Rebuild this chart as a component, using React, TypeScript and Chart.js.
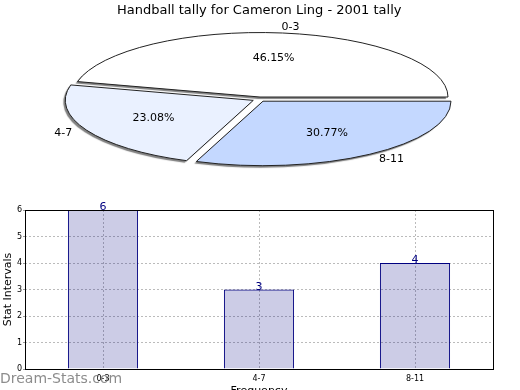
import React, { useEffect, useRef } from 'react';
import { Chart, registerables } from 'chart.js';
Chart.register(...registerables);

const chartTitle = 'Handball tally for Cameron Ling - 2001 tally';
const categories = ['0-3', '4-7', '8-11'];
const values = [6, 3, 4];
const pieColors = ['#ffffff', '#eaf1ff', '#c4d8ff'];
const yMin = 0;
const yMax = 6;
const xTitle = 'Frequency';
const yTitle = 'Stat Intervals';
const watermark = 'Dream-Stats.com';

const FONT = "'DejaVu Sans', sans-serif";
const SQUASH = 0.343;
const PIE_CY = 99.3;
const EXPLODE = 6.7;

const squashPlugin = {
  id: 'squash',
  beforeDatasetsDraw(chart: any) {
    const meta = chart.getDatasetMeta(0);
    const arc0 = meta.data[0];
    meta.data.forEach((arc: any) => {
      if (!arc.__wrapped) {
        const orig = arc.draw;
        arc.draw = function (ctx: any, area: any) {
          const mid = (this.startAngle + this.endAngle) / 2;
          ctx.save();
          ctx.translate(Math.cos(mid) * EXPLODE, Math.sin(mid) * EXPLODE);
          orig.call(this, ctx, area);
          ctx.restore();
        };
        arc.__wrapped = true;
      }
    });
    const ctx = chart.ctx;
    ctx.save();
    ctx.translate(0, PIE_CY);
    ctx.scale(1, SQUASH);
    ctx.translate(0, -arc0.y);
    ctx.shadowColor = 'rgba(0,0,0,0.5)';
    ctx.shadowOffsetX = -2;
    ctx.shadowOffsetY = 2;
    ctx.shadowBlur = 1;
    const orig = CanvasRenderingContext2D.prototype.stroke;
    ctx.stroke = function (...args: any[]) {
      this.save();
      this.setTransform(1, 0, 0, 1, 0, 0);
      this.shadowColor = 'rgba(0,0,0,0)';
      (orig as any).apply(this, args);
      this.restore();
    };
  },
  afterDatasetsDraw(chart: any) {
    const ctx = chart.ctx;
    delete ctx.stroke;
    ctx.restore();
    const meta = chart.getDatasetMeta(0);
    const ds = chart.data.datasets[0];
    const total = (ds.data as number[]).reduce((a, b) => a + b, 0);
    ctx.save();
    ctx.fillStyle = '#000';
    ctx.font = `11px ${FONT}`;
    ctx.textAlign = 'center';
    ctx.textBaseline = 'middle';
    meta.data.forEach((arc: any, i: number) => {
      const mid = (arc.startAngle + arc.endAngle) / 2;
      const c = Math.cos(mid);
      const s = Math.sin(mid);
      const r = arc.outerRadius;
      const ax = arc.x + c * EXPLODE;
      const ay = arc.y + s * EXPLODE;
      const map = (u: number) => PIE_CY + (u - arc.y) * SQUASH;
      const pct = ((ds.data[i] / total) * 100).toFixed(2) + '%';
      ctx.fillText(pct, ax + c * 0.6 * r, map(ay + s * 0.6 * r));
      ctx.fillText(chart.data.labels[i], ax + c * (r + 31) + 4, map(ay) + s * (r * SQUASH + 6));
    });
    ctx.restore();
  },
};

const valueLabelPlugin = {
  id: 'valueLabels',
  afterDatasetsDraw(chart: any) {
    const ctx = chart.ctx;
    const meta = chart.getDatasetMeta(0);
    ctx.save();
    ctx.fillStyle = '#000080';
    ctx.font = `11px ${FONT}`;
    ctx.textAlign = 'center';
    ctx.textBaseline = 'alphabetic';
    meta.data.forEach((bar: any, i: number) => {
      ctx.fillText(String(chart.data.datasets[0].data[i]), bar.x, bar.y);
    });
    ctx.restore();
  },
};

const framePlugin = {
  id: 'frame',
  afterDraw(chart: any) {
    const { ctx, chartArea } = chart;
    ctx.save();
    ctx.strokeStyle = '#000';
    ctx.lineWidth = 1;
    const l = Math.round(chartArea.left) + 0.5;
    const t = Math.round(chartArea.top) + 0.5;
    const r = Math.round(chartArea.right) + 0.5;
    const b = Math.round(chartArea.bottom) + 0.5;
    ctx.strokeRect(l, t, r - l, b - t);
    ctx.font = `14px ${FONT}`;
    ctx.fillStyle = 'rgba(120,120,120,0.85)';
    ctx.textAlign = 'left';
    ctx.textBaseline = 'alphabetic';
    ctx.fillText(watermark, 0, 188);
    ctx.restore();
  },
};

export default function App() {
  const pieRef = useRef<HTMLCanvasElement>(null);
  const barRef = useRef<HTMLCanvasElement>(null);

  useEffect(() => {
    const pieLabels = [...categories].reverse();
    const pieValues = [...values].reverse();
    const pieBg = [...pieColors].reverse();
    const pie = new Chart(pieRef.current!, {
      type: 'pie',
      data: {
        labels: pieLabels,
        datasets: [
          {
            data: pieValues,
            backgroundColor: pieBg,
            borderColor: '#222',
            borderWidth: 1,
            offset: 0,
            hoverOffset: 0,
            radius: 188,
          } as any,
        ],
      },
      options: {
        animation: false,
        responsive: false,
        rotation: 90,
        layout: { padding: { left: 0, right: 1.6 } },
        events: [],
        plugins: {
          legend: { display: false },
          tooltip: { enabled: false },
          title: {
            display: true,
            text: chartTitle,
            color: '#000',
            font: { family: FONT, size: 13, weight: 'normal' },
            padding: { top: 3, bottom: 0 },
          },
        },
      } as any,
      plugins: [squashPlugin],
    });

    const bar = new Chart(barRef.current!, {
      type: 'bar',
      data: {
        labels: categories,
        datasets: [
          {
            data: values,
            backgroundColor: 'rgba(0,0,128,0.2)',
            borderColor: '#000080',
            borderWidth: 1,
            categoryPercentage: 1,
            barPercentage: 0.45,
          },
        ],
      },
      options: {
        animation: false,
        responsive: false,
        events: [],
        layout: { padding: { top: 15, right: 27, left: 0, bottom: 0 } },
        plugins: { legend: { display: false }, tooltip: { enabled: false } },
        scales: {
          x: {
            afterFit: (s: any) => {
              s.height = 31;
            },
            grid: { offset: false, color: '#bbb', drawTicks: false },
            border: { display: false, dash: [2, 2] },
            ticks: { color: '#000', font: { family: FONT, size: 8 }, padding: 5, maxRotation: 0 },
            title: {
              display: true,
              text: xTitle,
              color: '#000',
              font: { family: FONT, size: 11 },
              padding: { top: 0, bottom: 2 },
            },
          },
          y: {
            min: yMin,
            max: yMax,
            afterFit: (s: any) => {
              s.width = 25;
            },
            grid: { color: '#bbb', tickLength: 2, tickColor: '#999', tickBorderDash: [] },
            border: { display: false, dash: [2, 2] },
            ticks: { stepSize: 1, color: '#000', font: { family: FONT, size: 8 }, padding: 1 },
            title: {
              display: true,
              text: yTitle,
              color: '#000',
              font: { family: FONT, size: 11 },
              padding: { top: 2, bottom: 0 },
            },
          },
        },
      } as any,
      plugins: [valueLabelPlugin, framePlugin],
    });

    return () => {
      pie.destroy();
      bar.destroy();
    };
  }, []);

  return (
    <div style={{ position: 'absolute', left: 0, top: 0, width: 520, height: 390, overflow: 'hidden', background: '#fff' }}>
      <canvas ref={pieRef} width={520} height={460} style={{ position: 'absolute', left: 0, top: 0, width: 520, height: 460 }} />
      <canvas ref={barRef} width={520} height={205} style={{ position: 'absolute', left: 0, top: 195, width: 520, height: 205 }} />
    </div>
  );
}
